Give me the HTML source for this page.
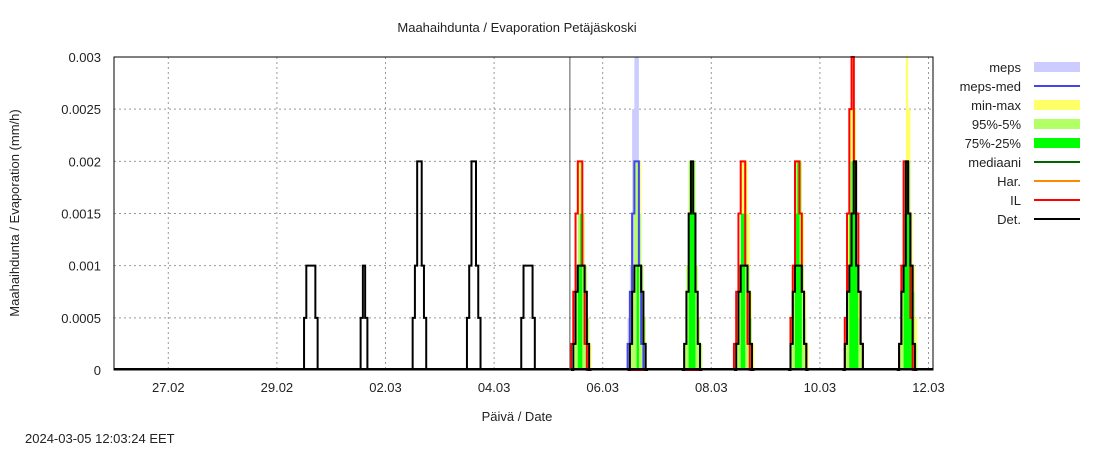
<!DOCTYPE html>
<html><head><meta charset="utf-8"><style>
body{margin:0;background:#fff;}
svg text{font-family:"Liberation Sans",sans-serif;font-size:13px;fill:#222;}
</style></head><body>
<svg id="chart" width="1100" height="450" xmlns="http://www.w3.org/2000/svg">
<rect width="1100" height="450" fill="#fff"/>
<text x="517" y="32" text-anchor="middle">Maahaihdunta / Evaporation  Petäjäskoski</text>
<text x="517" y="421" text-anchor="middle">Päivä / Date</text>
<text transform="translate(19,213) rotate(-90)" text-anchor="middle">Maahaihdunta / Evaporation (mm/h)</text>
<text x="25" y="443">2024-03-05 12:03:24 EET</text>
<g id="grid"></g><g id="marks"></g><g id="axes"></g><g id="legend"></g>
</svg>
<script>
const yTicks=[0,0.0005,0.001,0.0015,0.002,0.0025,0.003];
const yTickLabels=["0","0.0005","0.001","0.0015","0.002","0.0025","0.003"];
const xTickDays=[1,3,5,7,9,11,13,15];
const xTickLabels=["27.02","29.02","02.03","04.03","06.03","08.03","10.03","12.03"];
const nowHour=201.5;
const obsStarts=[84,109,132,156,180];
const obsDet=[[0.0005,0.001,0.001,0.001,0.001,0.0005],[0.0005,0.001,0.0005],[0.0005,0.001,0.002,0.002,0.001,0.0005],[0.0005,0.001,0.002,0.002,0.001,0.0005],[0.0005,0.001,0.001,0.001,0.001,0.0005]];
const fcStarts=[202,227,251,274,298,322,346];
const mepsBand=[[],[0.0005,0.001,0.0025,0.003,0.003,0.0015,0.0005,0,0],[],[],[],[],[]];
const mepsMed=[[],[0.00025,0.00075,0.0015,0.002,0.002,0.001,0.00025,0,0],[],[],[],[],[]];
const minMax=[[0,0.00025,0.001,0.002,0.002,0.0015,0.001,0.0005,0.00025],[0,0.00025,0.001,0.002,0.002,0.002,0.001,0.0005,0],[0,0.00025,0.001,0.002,0.002,0.002,0.001,0.0005,0.00025],[0,0.0005,0.001,0.002,0.002,0.002,0.0015,0.00075,0.00025],[0,0.0005,0.001,0.002,0.002,0.002,0.0015,0.00075,0.00025],[0,0.0005,0.0015,0.0025,0.003,0.0025,0.0015,0.00075,0.00025],[0,0.00025,0.001,0.002,0.003,0.0025,0.0015,0.001,0.0005]];
const p95=[[0,0.00025,0.001,0.0015,0.002,0.0015,0.001,0.0005,0],[0,0.00025,0.001,0.002,0.002,0.0015,0.001,0.0005,0],[0,0.00025,0.001,0.002,0.002,0.002,0.001,0.0005,0.00025],[0,0.00025,0.001,0.0015,0.0015,0.0015,0.001,0.0005,0],[0,0.00025,0.001,0.002,0.002,0.002,0.001,0.0005,0],[0,0.00025,0.001,0.002,0.002,0.002,0.001,0.0005,0.00025],[0,0.00025,0.001,0.002,0.002,0.002,0.001,0.00075,0.00025]];
const p75=[[0,0,0,0.001,0.0015,0,0,0,0],[0,0,0,0,0.001,0,0,0,0],[0,0,0,0.0015,0.002,0.0015,0,0,0],[0,0,0,0.0015,0.0015,0,0,0,0],[0,0,0,0.0015,0.002,0.001,0,0,0],[0,0,0,0.0015,0.002,0.0015,0.001,0,0],[0,0,0,0.0015,0.002,0.0015,0.001,0,0]];
const ilLine=[[0.00025,0.00075,0.0015,0.002,0.002,0.001,0.00025,0,0],[0,0,0,0,0,0,0,0,0],[0,0,0,0,0,0,0,0,0],[0.00025,0.00075,0.0015,0.002,0.002,0.001,0.00025,0,0],[0,0.0005,0.001,0.002,0.002,0.0015,0.00075,0.00025,0],[0,0.0005,0.0015,0.0025,0.003,0.002,0.0015,0.00075,0.00025],[0,0.00025,0.001,0.002,0.002,0.0015,0.0005,0,0]];
const fcDet=[[0,0.00025,0.00075,0.001,0.001,0.001,0.00075,0.00025,0],[0,0.00025,0.00075,0.001,0.001,0.001,0.00075,0.00025,0],[0,0.00025,0.00075,0.0015,0.002,0.0015,0.00075,0.00025,0],[0,0.00025,0.00075,0.001,0.001,0.001,0.00075,0.00025,0],[0,0.00025,0.00075,0.001,0.001,0.001,0.00075,0.00025,0],[0,0.00025,0.00075,0.001,0.0015,0.002,0.001,0.00075,0.00025],[0,0.00025,0.00075,0.001,0.002,0.0015,0.001,0.00025,0]];
const legendLabels=["meps","meps-med","min-max","95%-5%","75%-25%","mediaani","Har.","IL","Det."];
const legendColors=["#ccccff","#4444ee","#ffff66","#b3ff66","#00ff00","#006600","#ff8800","#ff0000","#000000"];
const legendBand=[true,false,true,true,true,false,false,false,false];

const NS="http://www.w3.org/2000/svg";
const L=114,R=933,T=57,B=370,HOURS=(R-L)/2.2625;
const xS=h=>L+(h/HOURS)*(R-L);
const yS=v=>B-(v/0.003)*(B-T);
function mk(tag,attrs,parent){const e=document.createElementNS(NS,tag);for(const k in attrs)e.setAttribute(k,attrs[k]);parent.appendChild(e);return e;}
const grid=document.getElementById('grid'),marks=document.getElementById('marks'),axes=document.getElementById('axes'),leg=document.getElementById('legend');
yTicks.forEach((v,i)=>{
 if(v>0&&v<0.003){const g=mk('line',{x1:L,x2:R,y1:yS(v),y2:yS(v),stroke:'#999','stroke-dasharray':'2,3'},grid);
 
 }
 const t=mk('text',{x:L-13,y:yS(v)+5,'text-anchor':'end'},axes);t.textContent=yTickLabels[i];
 
 
});
xTickDays.forEach((d,i)=>{
 const x=xS(d*24);
 const g=mk('line',{x1:x,x2:x,y1:T,y2:B,stroke:'#999','stroke-dasharray':'2,3'},grid);
 
 
 const t=mk('text',{x:x,y:B+22,'text-anchor':'middle'},axes);t.textContent=xTickLabels[i];
 
 
});
function stepPts(start,vals){let p=[];vals.forEach((v,k)=>{p.push([xS(start+k),yS(v)],[xS(start+k+1),yS(v)]);});return p;}
function band(starts,arr,color,name){arr.forEach((vals,i)=>{if(!vals.length)return;
 const p=stepPts(starts[i],vals);const pts=[[p[0][0],B],...p,[p[p.length-1][0],B]].map(q=>q.join(',')).join(' ');
 const e=mk('polygon',{points:pts,fill:color},marks);
 
 });}
function line(starts,arr,color,name){arr.forEach((vals,i)=>{if(!vals.length)return;
 const p=stepPts(starts[i],vals);const pts=[[p[0][0],B],...p,[p[p.length-1][0],B]].map(q=>q.join(',')).join(' ');
 const e=mk('polyline',{points:pts,fill:'none',stroke:color,'stroke-width':2},marks);
 
 });}
band(fcStarts,mepsBand,'#ccccff','meps-band');
band(fcStarts,minMax,'#ffff66','min-max-band');
band(fcStarts,p95,'#b3ff66','p95-p5-band');
band(fcStarts,p75,'#00ff00','p75-p25-band');
line(fcStarts,mepsMed,'#4444ee','meps-med-line');
line(fcStarts,ilLine,'#ff0000','il-line');
const base=mk('line',{x1:L,x2:R,y1:B-1,y2:B-1,stroke:'#000','stroke-width':2},marks);


line(obsStarts,obsDet,'#000','det-observed-line');
line(fcStarts,fcDet,'#000','det-forecast-line');
const nl=mk('line',{x1:xS(nowHour),x2:xS(nowHour),y1:T,y2:B,stroke:'#555','stroke-width':1},marks);


const fr=mk('rect',{x:L,y:T,width:R-L,height:B-T,fill:'none',stroke:'#000','stroke-width':1},axes);


legendLabels.forEach((lab,i)=>{
 const y=67+i*19;
 const t=mk('text',{x:1021,y:y+5,'text-anchor':'end'},leg);t.textContent=lab;
 
 
 const s=legendBand[i]?mk('rect',{x:1034,y:y-5,width:46,height:10,fill:legendColors[i]},leg):mk('line',{x1:1034,x2:1080,y1:y,y2:y,stroke:legendColors[i],'stroke-width':2},leg);
 
 
});
</script>
</body></html>
